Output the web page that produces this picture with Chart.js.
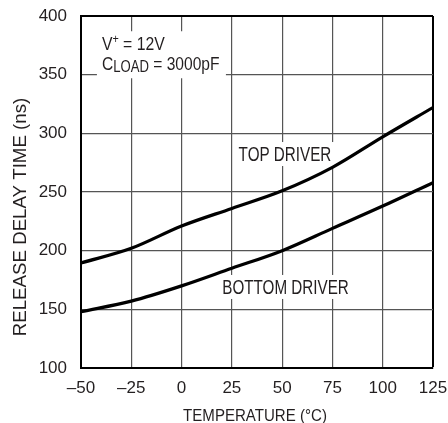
<!DOCTYPE html>
<html>
<head>
<meta charset="utf-8">
<script src="https://cdn.jsdelivr.net/npm/chart.js@4.4.1/dist/chart.umd.min.js"></script>
<style>
  body { margin: 0; background: #fff; }
  #wrap { width: 448px; height: 423px; position: relative; }
</style>
</head>
<body>
<div id="wrap"><canvas id="myChart"></canvas></div>
<script>
// temperature (°C) vs release delay time (ns)
const temps = [-50, -25, 0, 25, 50, 75, 100, 125];
const topDriver = [189.5, 202, 221, 236, 251, 271, 297, 322];
const bottomDriver = [148, 157, 170, 185, 200, 219, 238, 258];
const xTicks = [-50, -25, 0, 25, 50, 75, 100, 125];
const yTicks = [100, 150, 200, 250, 300, 350, 400];

const FONT = "'Liberation Sans', Arial, sans-serif";
const INK = '#231f20';

function minus(v) {
  return v < 0 ? '\u2013' + Math.abs(v) : String(v);
}

// draws runs of text squeezed horizontally (the original uses a condensed face)
// runs: [text, size, dy]
function squeezed(ctx, runs, x, y, sx, align) {
  let w = 0;
  runs.forEach(r => { ctx.font = r[1] + 'px ' + FONT; w += ctx.measureText(r[0]).width; });
  ctx.save();
  ctx.translate(x, y);
  ctx.scale(sx, 1);
  let cx = align === 'center' ? -w / 2 : 0;
  ctx.textAlign = 'left';
  ctx.textBaseline = 'alphabetic';
  runs.forEach(r => {
    ctx.font = r[1] + 'px ' + FONT;
    ctx.fillText(r[0], cx, r[2] || 0);
    cx += ctx.measureText(r[0]).width;
  });
  ctx.restore();
  return w * sx;
}

const labelsPlugin = {
  id: 'labels',
  beforeDatasetsDraw(chart) {
    const ctx = chart.ctx;
    const x = chart.scales.x, y = chart.scales.y;
    ctx.save();

    // conditions block, white box knocks out the grid behind it
    const px = x.getPixelForValue(-39.6);
    ctx.fillStyle = '#fff';
    ctx.fillRect(px - 5, y.getPixelForValue(387), 129, 47);
    ctx.fillStyle = INK;
    squeezed(ctx, [['V', 19], ['+', 13, -7], [' = 12V', 19]], px, y.getPixelForValue(371), 0.83);
    squeezed(ctx, [['C', 19], ['LOAD', 16, 2], [' = 3000pF', 19]], px, y.getPixelForValue(354), 0.82);

    // curve names
    [['TOP DRIVER', 51.4, 276.4], ['BOTTOM DRIVER', 51.7, 163.1]].forEach(l => {
      const cx = x.getPixelForValue(l[1]), by = y.getPixelForValue(l[2]);
      ctx.font = '19.5px ' + FONT;
      const w = ctx.measureText(l[0]).width * 0.78;
      ctx.fillStyle = '#fff';
      ctx.fillRect(cx - w / 2 - 5, by - 19, w + 10, 24);
      ctx.fillStyle = INK;
      squeezed(ctx, [[l[0], 19.5]], cx, by, 0.78, 'center');
    });
    ctx.restore();
  },
  afterDraw(chart) {
    const ctx = chart.ctx;
    const a = chart.chartArea;
    ctx.save();
    ctx.fillStyle = INK;
    // x axis title
    squeezed(ctx, [['TEMPERATURE (°C)', 17]], (a.left + a.right) / 2 - 2, 421, 0.886, 'center');
    // y axis title
    ctx.translate(21, 217);
    ctx.rotate(-Math.PI / 2);
    ctx.font = '18.7px ' + FONT;
    ctx.textAlign = 'center';
    ctx.textBaseline = 'middle';
    ctx.fillText('RELEASE DELAY TIME (ns)', 0, 0);
    ctx.restore();
  }
};

function initChart() {
  const data = {
    labels: temps,
    datasets: [{
      label: 'TOP DRIVER',
      data: temps.map((t, i) => ({ x: t, y: topDriver[i] })),
      borderColor: '#000',
      borderWidth: 3.2,
      pointRadius: 0,
      cubicInterpolationMode: 'monotone',
      fill: false
    }, {
      label: 'BOTTOM DRIVER',
      data: temps.map((t, i) => ({ x: t, y: bottomDriver[i] })),
      borderColor: '#000',
      borderWidth: 3.2,
      pointRadius: 0,
      cubicInterpolationMode: 'monotone',
      fill: false
    }]
  };

  const config = {
    type: 'line',
    data: data,
    plugins: [labelsPlugin],
    options: {
      responsive: true,
      maintainAspectRatio: false,
      animation: false,
      layout: { padding: { top: 16, right: 15, left: 0, bottom: 0 } },
      plugins: { legend: { display: false }, tooltip: { enabled: false } },
      scales: {
        x: {
          type: 'linear',
          min: -50, max: 125,
          afterBuildTicks: s => { s.ticks = xTicks.map(v => ({ value: v })); },
          afterFit: s => { s.height = 55; s.paddingLeft = 0; s.paddingRight = 0; },
          grid: {
            drawTicks: false,
            color: c => (c.tick && c.tick.value === 125) ? '#000' : '#555',
            lineWidth: c => (c.tick && c.tick.value === 125) ? 2 : 1.2
          },
          border: { color: '#000', width: 2 },
          ticks: {
            padding: 10,
            color: INK,
            font: { family: FONT, size: 17 },
            callback: v => minus(v)
          }
        },
        y: {
          min: 100, max: 400,
          afterBuildTicks: s => { s.ticks = yTicks.map(v => ({ value: v })); },
          afterFit: s => { s.width = 81; s.paddingTop = 0; s.paddingBottom = 0; },
          grid: {
            drawTicks: false,
            color: c => (c.tick && c.tick.value === 400) ? '#000' : '#555',
            lineWidth: c => (c.tick && c.tick.value === 400) ? 2 : 1.2
          },
          border: { color: '#000', width: 2 },
          ticks: {
            padding: 14,
            color: INK,
            font: { family: FONT, size: 17 }
          }
        }
      }
    }
  };

  const ctx = document.getElementById('myChart');
  const myChart = new Chart(ctx, config);
}

initChart();
</script>
</body>
</html>
